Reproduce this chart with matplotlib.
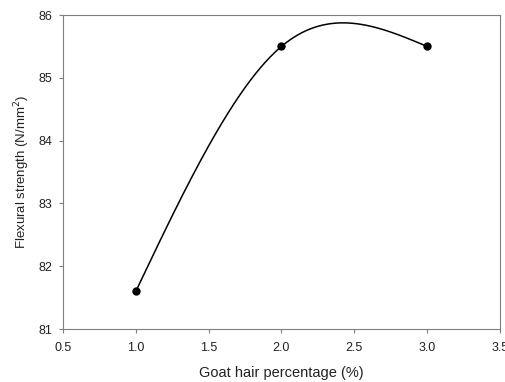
import numpy as np
import matplotlib
matplotlib.use("Agg")
import matplotlib.pyplot as plt

plt.rcParams['font.family'] = ['Liberation Sans', 'DejaVu Sans']

# goat hair percentage vs flexural strength
hair = np.array([1.0, 2.0, 3.0])
strength = np.array([81.6, 85.5, 85.5])
xticks = [0.5, 1.0, 1.5, 2.0, 2.5, 3.0, 3.5]
yticks = [81, 82, 83, 84, 85, 86]


def natural_spline(x, y, xs):
    # natural cubic spline through the measured points (curve shape only)
    n = len(x)
    h = np.diff(x)
    A = np.zeros((n, n))
    b = np.zeros(n)
    A[0, 0] = A[-1, -1] = 1
    for i in range(1, n - 1):
        A[i, i - 1] = h[i - 1]
        A[i, i] = 2 * (h[i - 1] + h[i])
        A[i, i + 1] = h[i]
        b[i] = 6 * ((y[i + 1] - y[i]) / h[i] - (y[i] - y[i - 1]) / h[i - 1])
    M = np.linalg.solve(A, b)
    out = np.empty_like(xs)
    for k, xv in enumerate(xs):
        i = min(max(np.searchsorted(x, xv) - 1, 0), n - 2)
        a = x[i + 1] - xv
        c = xv - x[i]
        out[k] = (M[i] * a**3 + M[i + 1] * c**3) / (6 * h[i]) \
            + (y[i] / h[i] - M[i] * h[i] / 6) * a \
            + (y[i + 1] / h[i] - M[i + 1] * h[i] / 6) * c
    return out


xs = np.linspace(hair[0], hair[-1], 300)
ys = natural_spline(hair, strength, xs)

fig = plt.figure(figsize=(5.06, 3.82), dpi=100)
ax = fig.add_axes([0.1245, 0.1387, 0.8635, 0.822])
ax.plot(xs, ys, color="black", linewidth=1.1)
ax.plot(hair, strength, "o", color="black", markersize=5)

ax.set_xlim(0.5, 3.5)
ax.set_ylim(81, 86)
ax.set_xticks(xticks)
ax.set_xticklabels([f"{v:.1f}" for v in xticks])
ax.set_yticks(yticks)
for s in ax.spines.values():
    s.set_color("#7f7f7f")
ax.tick_params(colors="#7f7f7f", labelcolor="#222222", labelsize=9, length=3, width=0.8)
ax.tick_params(axis="x", pad=6)
ax.tick_params(axis="y", pad=5)
ax.set_xlabel("Goat hair percentage (%)", fontsize=10.5, color="#222222", labelpad=9)
ax.set_ylabel("Flexural strength (N/mm$^2$)", fontsize=9.5, color="#222222", labelpad=4)

fig.savefig("out.png", dpi=100)
